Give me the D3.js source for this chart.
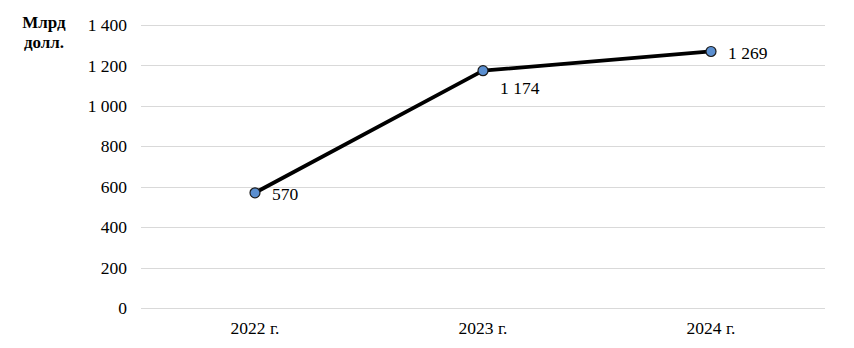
<!DOCTYPE html>
<html><head><meta charset="utf-8">
<script src="https://cdn.jsdelivr.net/npm/d3@7"></script>
<style>body{margin:0;background:#fff}svg{display:block}</style>
</head><body>
<svg id="c" width="854" height="348" font-family="'Liberation Serif', 'Times New Roman', serif"></svg>
<script>
const categories = ["2022 г.", "2023 г.", "2024 г."];
const values = [570, 1174, 1269];
const yTicks = [0, 200, 400, 600, 800, 1000, 1200, 1400];
const labelOffsets = [[17, 1], [17, 17], [17, 1]];

const svg = d3.select("#c");
const x = d3.scaleBand().domain(categories).range([141, 825]).padding(0);
const y = d3.scaleLinear().domain([0, 1400]).range([308, 25]);
const fmt = v => d3.format(",")(v).replace(/,/g, " ");
const FS = 17.5;

svg.append("g").selectAll("line").data(yTicks).join("line")
  .attr("x1", 141).attr("x2", 825)
  .attr("y1", d => Math.round(y(d)) + 0.5).attr("y2", d => Math.round(y(d)) + 0.5)
  .attr("stroke", "#d9d9d9").attr("stroke-width", 1);

svg.append("g").selectAll("text").data(yTicks).join("text")
  .attr("x", 127).attr("y", d => y(d)).attr("dy", "0.35em")
  .attr("text-anchor", "end").attr("font-size", FS).attr("fill", "#000")
  .text(fmt);

svg.append("g").selectAll("text").data(categories).join("text")
  .attr("x", d => x(d) + x.bandwidth() / 2).attr("y", 328).attr("dy", "0.35em")
  .attr("text-anchor", "middle").attr("font-size", FS).attr("fill", "#000")
  .text(d => d);

const title = svg.append("text").attr("font-size", 17).attr("font-weight", "bold").attr("text-anchor", "middle");
title.append("tspan").attr("x", 44).attr("y", 28).text("Млрд");
title.append("tspan").attr("x", 44).attr("y", 48).text("долл.");

const pts = categories.map((c, i) => [x(c) + x.bandwidth() / 2, y(values[i])]);
svg.append("path").attr("d", d3.line()(pts)).attr("fill", "none")
  .attr("stroke", "#000").attr("stroke-width", 3.8).attr("stroke-linejoin", "round");

svg.append("g").selectAll("circle").data(pts).join("circle")
  .attr("cx", d => d[0]).attr("cy", d => d[1]).attr("r", 5)
  .attr("fill", "#5b8fd0").attr("stroke", "#1a1a1a").attr("stroke-width", 1.2);

svg.append("g").selectAll("text").data(pts).join("text")
  .attr("x", (d, i) => d[0] + labelOffsets[i][0]).attr("y", (d, i) => d[1] + labelOffsets[i][1])
  .attr("dy", "0.35em").attr("font-size", FS).attr("fill", "#000")
  .text((d, i) => fmt(values[i]));
</script>
</body></html>
